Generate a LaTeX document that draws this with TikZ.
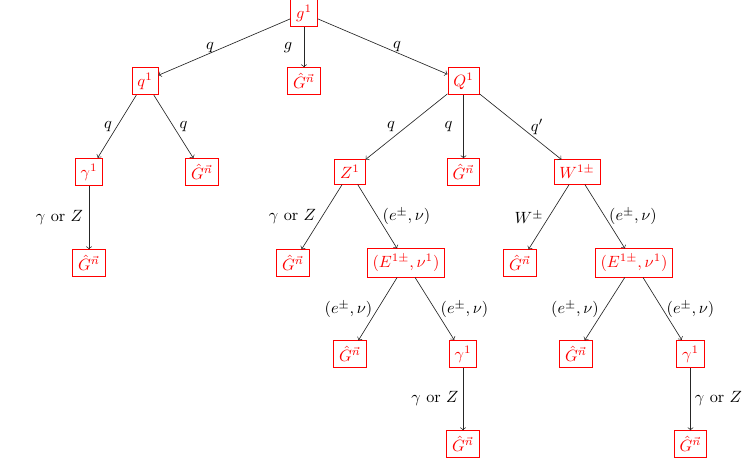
\documentclass[tikz,border=0pt]{standalone}
\begin{document}
\begin{tikzpicture}[x=0.6135pt,y=-0.6135pt,
  box/.style={draw=red,text=red,rectangle,line width=0.55pt},
  arr/.style={->,draw=black!85},
  lbl/.style={inner sep=0pt,text=black}]
\useasboundingbox (0,0) rectangle (747,458);
% nodes
\node[box] (root) at (304,13) {$g^1$};
\node[box] (q1) at (145,81) {$q^1$};
\node[box] (Ga) at (304,81) {$\hat{G}^{\vec{n}}$};
\node[box] (Q1) at (463.5,81) {$Q^1$};
\node[box] (gam1) at (89,172) {$\gamma^1$};
\node[box] (Gb) at (202,172) {$\hat{G}^{\vec{n}}$};
\node[box] (Gc) at (89,263) {$\hat{G}^{\vec{n}}$};
\node[box] (Z1) at (350,172) {$Z^1$};
\node[box] (Gd) at (463.5,172) {$\hat{G}^{\vec{n}}$};
\node[box] (W1) at (577,172) {$W^{1\pm}$};
\node[box] (Ge) at (293,263) {$\hat{G}^{\vec{n}}$};
\node[box] (E1) at (406,263) {$(E^{1\pm},\nu^1)$};
\node[box] (Gf) at (520,263) {$\hat{G}^{\vec{n}}$};
\node[box] (E2) at (634,263) {$(E^{1\pm},\nu^1)$};
\node[box] (Gg) at (350,354) {$\hat{G}^{\vec{n}}$};
\node[box] (gam2) at (463,354) {$\gamma^1$};
\node[box] (Gh) at (463,444) {$\hat{G}^{\vec{n}}$};
\node[box] (Gi) at (576,354) {$\hat{G}^{\vec{n}}$};
\node[box] (gam3) at (690.5,354) {$\gamma^1$};
\node[box] (Gj) at (690.5,444) {$\hat{G}^{\vec{n}}$};
% connectors
\draw[arr] (root) -- (q1) node[lbl] at (210,47.5) {$q$};
\draw[arr] (root) -- (Ga) node[lbl] at (288,48) {$g$};
\draw[arr] (root) -- (Q1) node[lbl] at (397,47) {$q$};
\draw[arr] (q1) -- (gam1) node[lbl] at (108,126.5) {$q$};
\draw[arr] (q1) -- (Gb) node[lbl] at (183.5,126.5) {$q$};
\draw[arr] (gam1) -- (Gc) node[lbl] at (59.5,217.5) {$\gamma$ or $Z$};
\draw[arr] (Q1) -- (Z1) node[lbl] at (391,126.5) {$q$};
\draw[arr] (Q1) -- (Gd) node[lbl] at (448.5,126.5) {$q$};
\draw[arr] (Q1) -- (W1) node[lbl] at (537,127) {$q'$};
\draw[arr] (Z1) -- (Ge) node[lbl] at (292.5,217) {$\gamma$ or $Z$};
\draw[arr] (Z1) -- (E1) node[lbl] at (406.5,216.5) {$(e^{\pm},\nu)$};
\draw[arr] (E1) -- (Gg) node[lbl] at (348.5,309.5) {$(e^{\pm},\nu)$};
\draw[arr] (E1) -- (gam2) node[lbl] at (464.5,309.5) {$(e^{\pm},\nu)$};
\draw[arr] (gam2) -- (Gh) node[lbl] at (435,398.5) {$\gamma$ or $Z$};
\draw[arr] (W1) -- (Gf) node[lbl] at (529,217.5) {$W^{\pm}$};
\draw[arr] (W1) -- (E2) node[lbl] at (633,216.5) {$(e^{\pm},\nu)$};
\draw[arr] (E2) -- (Gi) node[lbl] at (575,309.5) {$(e^{\pm},\nu)$};
\draw[arr] (E2) -- (gam3) node[lbl] at (690.5,309.5) {$(e^{\pm},\nu)$};
\draw[arr] (gam3) -- (Gj) node[lbl] at (718.5,398.5) {$\gamma$ or $Z$};
\end{tikzpicture}
\end{document}
